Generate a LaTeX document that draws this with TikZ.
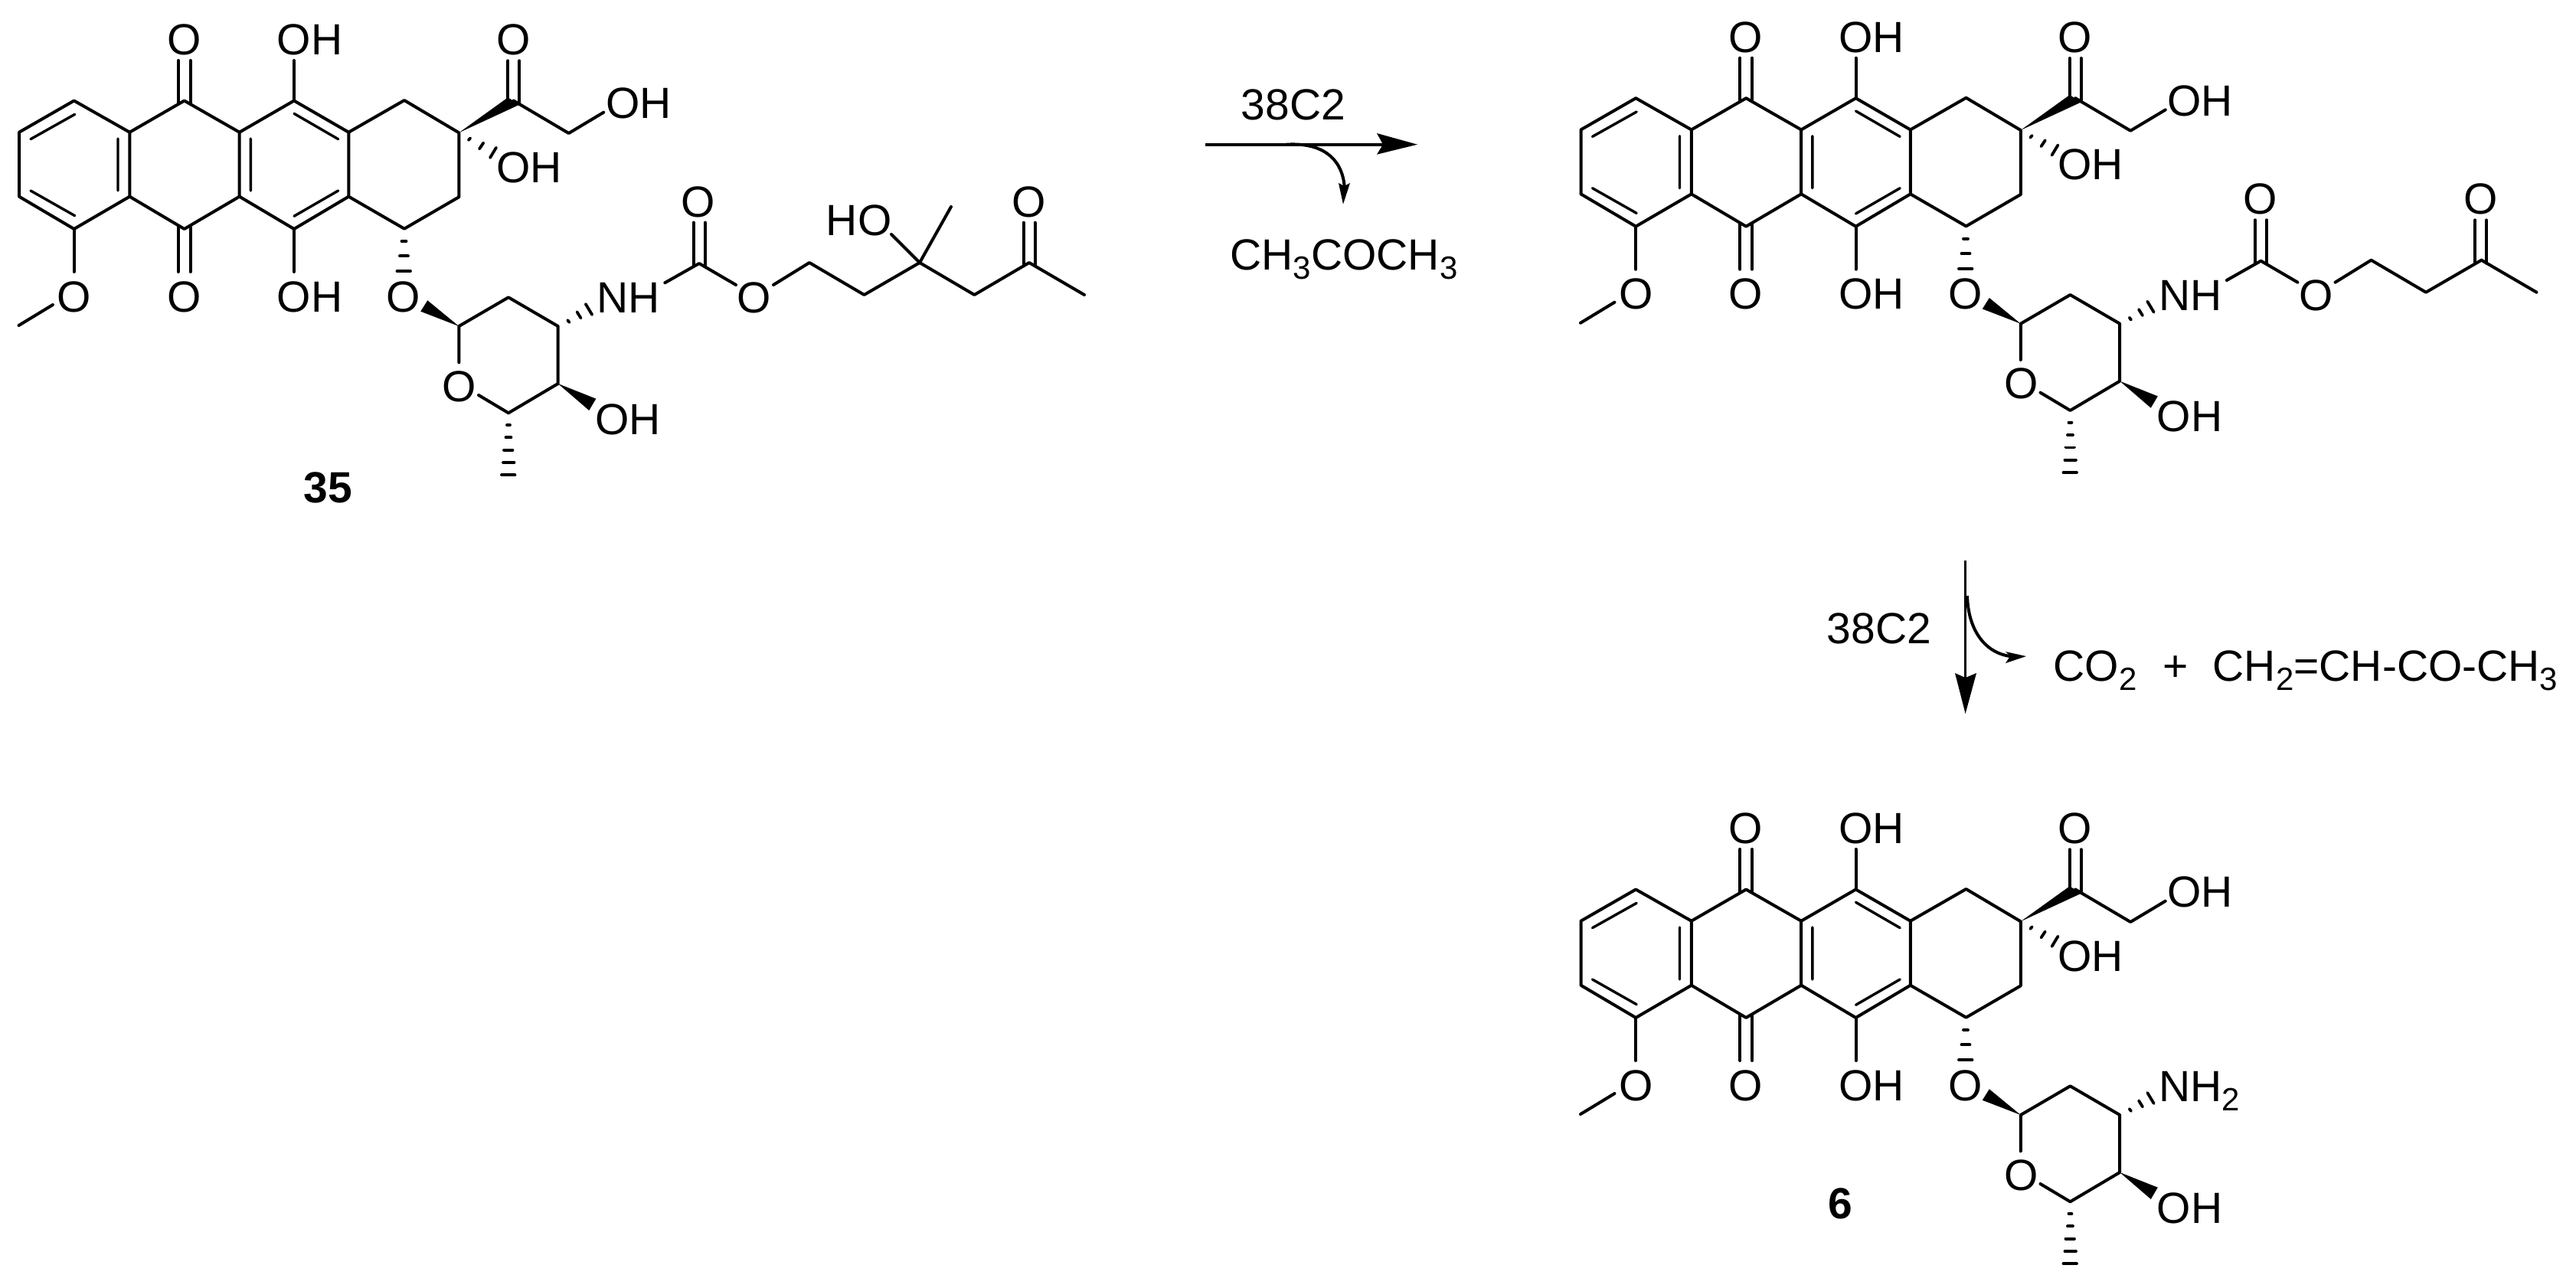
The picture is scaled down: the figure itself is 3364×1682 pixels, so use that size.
\documentclass[tikz,border=0pt]{standalone}
\usepackage{fontspec}
\setmainfont{Liberation Sans}
\tikzset{
  x=0.25pt,y=-0.25pt,
  bond/.style={line width=1pt,line cap=round,line join=round},
  inner/.style={line width=0.85pt,line cap=round},
  hash/.style={line width=0.95pt,line cap=round},
  lab/.style={anchor=base,inner sep=0pt,font=\fontsize{14.25}{16}\selectfont},
  labw/.style={anchor=base west,inner sep=0pt,font=\fontsize{14.25}{16}\selectfont},
  cmp/.style={anchor=base,inner sep=0pt,font=\fontsize{14.25}{16}\bfseries\selectfont},
}
\newcommand{\sub}[1]{\raisebox{-3pt}{\fontsize{10.5}{12}\selectfont #1}}
% common part of every molecule: tetracyclic aglycone and sugar ring without the N substituent
\newcommand{\aglycone}[1]{%
  \coordinate (#1a1) at (25,172.7);
  \coordinate (#1a2) at (96.7,131.5);
  \coordinate (#1a3) at (169.3,172.7);
  \coordinate (#1a4) at (169.3,256.7);
  \coordinate (#1a5) at (96.7,299);
  \coordinate (#1a6) at (25,256.7);
  \coordinate (#1b2) at (240.7,131.5);
  \coordinate (#1b3) at (312.7,172.7);
  \coordinate (#1b4) at (312.7,256.7);
  \coordinate (#1b5) at (240.7,299);
  \coordinate (#1c2) at (384,131.5);
  \coordinate (#1c3) at (455.3,172.7);
  \coordinate (#1c4) at (455.3,256.7);
  \coordinate (#1c5) at (384,299);
  \coordinate (#1d2) at (528,131);
  \coordinate (#1d3) at (599.3,173.3);
  \coordinate (#1d4) at (599.3,257.3);
  \coordinate (#1d5) at (528,298.7);
  % labels
  \node[lab] (#1oT) at (240.5,71.5) {O};
  \node[lab] (#1ohT) at (404.5,71.5) {OH};
  \node[lab] (#1oB) at (240.5,407) {O};
  \node[lab] (#1ohB) at (404.5,407) {OH};
  \node[lab] (#1oM) at (97,407) {O};
  \node[lab] (#1oK) at (670.5,71.5) {O};
  \node[lab] (#1ohE) at (690.8,238) {OH};
  \node[lab] (#1ohF) at (833.8,154.5) {OH};
  \node[lab] (#1oG) at (526.7,407) {O};
  \node[lab] (#1oR) at (599.7,524) {O};
  \node[lab] (#1ohS) at (820,567) {OH};
  % side chain and sugar atoms
  \coordinate (#1k) at (670.7,131.5);
  \coordinate (#1f) at (742.7,174);
  \coordinate (#1s1) at (599.3,426);
  \coordinate (#1s2) at (664,388.3);
  \coordinate (#1s3) at (728.7,426);
  \coordinate (#1s4) at (728.7,501);
  \coordinate (#1s5) at (664,539.3);
  \coordinate (#1me) at (24.5,425);
  % bonds of rings
  \draw[bond] (#1a1)--(#1a2)--(#1a3)--(#1a4)--(#1a5)--(#1a6)--cycle;
  \draw[bond] (#1a3)--(#1b2)--(#1b3)--(#1b4)--(#1b5)--(#1a4);
  \draw[bond] (#1b3)--(#1c2)--(#1c3)--(#1c4)--(#1c5)--(#1b4);
  \draw[bond] (#1c3)--(#1d2)--(#1d3)--(#1d4)--(#1d5)--(#1c4);
  % inner ring lines
  \draw[inner] (40,181.7)--(97.7,149.3) (40,249)--(97.7,281.7) (154,181)--(154,249);
  \draw[inner] (327.3,181)--(327.3,249) (384,148.3)--(441.7,181.7) (384,282.3)--(441.7,249);
  % exocyclic bonds of the aglycone
  \draw[bond] (232.9,135)--(232.9,79) (248.5,135)--(248.5,79);
  \draw[bond] (232.9,295)--(232.9,355) (248.5,295)--(248.5,355);
  \draw[bond] (#1c2)--(384,79);
  \draw[bond] (#1c5)--(384,355);
  \draw[bond] (#1a5)--(96.7,355);
  \draw[bond] (69,398)--(#1me);
  % keto side chain
  \fill (#1d3)--(663.3,127.3)--(678.3,136.7)--cycle;
  \draw[bond] (663.3,130)--(663.3,79.3) (678.3,136)--(678.3,79.3);
  \draw[bond] (#1k)--(#1f)--(788.3,146.7);
  \draw[hash] (611.8,183)--(614.2,180.3) (626,194.5)--(631.3,186.5) (640,206)--(648,192.7);
  % glycoside
  \draw[hash] (524.5,315)--(530.5,315) (522,334.3)--(533,334.3) (518.5,354)--(536,354);
  \fill (#1s1)--(558.3,392.3)--(549.3,406.7)--cycle;
  \draw[bond] (599.3,473.3)--(#1s1)--(#1s2)--(#1s3)--(#1s4)--(#1s5)--(625,516);
  \fill (#1s4)--(778.3,520.7)--(769.3,536)--cycle;
  \draw[hash] (662,555)--(666,555) (660.5,571.3)--(667.5,571.3) (658,587.7)--(669.5,587.7) (657,604)--(671.5,604) (655,620.3)--(672.5,620.3);
  \draw[hash] (741.2,418)--(743.5,421) (753.5,407.3)--(758.5,415.4) (764.8,397)--(773.2,411);
}
% carbamate and the start of the chain shared by the first two molecules
\newcommand{\carbamate}[1]{%
  \node[lab] (#1nh) at (821,408.5) {NH};
  \node[lab] (#1oC) at (911.7,283) {O};
  \node[lab] (#1oE) at (984.7,408.3) {O};
  \coordinate (#1c) at (913,344);
  \coordinate (#1e1) at (1057,343);
  \coordinate (#1e2) at (1128.5,385);
  \coordinate (#1e3) at (1201,343);
  \draw[bond] (868.3,369.3)--(#1c)--(961,372);
  \draw[bond] (905.6,347)--(905.6,290.6) (920.6,347)--(920.6,290.6);
  \draw[bond] (1010,372)--(#1e1)--(#1e2)--(#1e3);
}
\begin{document}
\begin{tikzpicture}
\useasboundingbox (0,0) rectangle (3364,1682);
% molecule 35
\begin{scope}
  \aglycone{p}
  \carbamate{p}
  \coordinate (pm) at (1242,270);
  \coordinate (pe4) at (1272.4,385);
  \coordinate (pe5) at (1344,343);
  \coordinate (pe6) at (1416,385);
  \node[lab] (pho) at (1121.6,307.7) {HO};
  \node[lab] (poO) at (1343.9,283) {O};
  \draw[bond] (pe3)--(pm);
  \draw[bond] (pe3)--(1164,306);
  \draw[bond] (pe3)--(pe4)--(pe5)--(pe6);
  \draw[bond] (1336.7,347)--(1336.7,290.7) (1351.5,347)--(1351.5,290.7);
  \node[cmp] (n35) at (428.5,656) {35};
\end{scope}
% intermediate
\begin{scope}[shift={(2039.5,-3.3)}]
  \aglycone{q}
  \carbamate{q}
  \coordinate (qe4) at (1273,385);
  \node[lab] (qoO) at (1200.2,283) {O};
  \draw[bond] (qe3)--(qe4);
  \draw[bond] (1192.9,347)--(1192.9,290.7) (1207.6,347)--(1207.6,290.7);
\end{scope}
% product 6
\begin{scope}[shift={(2039.5,1030)}]
  \aglycone{r}
  \node[labw] (rnh) at (779,408.5) {NH\sub{2}};
\end{scope}
\node[cmp] (n6) at (2403.5,1591) {6};
% arrow 1
\coordinate (a1s) at (1574,188.7);
\coordinate (a1e) at (1806,188.7);
\coordinate (a1b) at (1680,188.7);
\coordinate (a1c) at (1755.7,243);
\draw[line width=1pt] (a1s)--(a1e);
\fill (1851,188.7)--(1798,174)--(1806,188.7)--(1798,201.7)--cycle;
\draw[line width=1pt] (a1b) .. controls (1725,186) and (1752,205) .. (a1c);
\fill (1754,266.7)--(1748,239)--(1755.5,243)--(1763,239)--cycle;
\node[lab] (t1) at (1689,156) {38C2};
\node[lab] (t2) at (1755,352.7) {CH\sub{3}COCH\sub{3}};
% arrow 2
\coordinate (a2s) at (2566.6,732);
\coordinate (a2e) at (2566.6,885);
\coordinate (a2b) at (2569,778);
\coordinate (a2c) at (2625,857);
\draw[line width=0.75pt] (a2s)--(a2e);
\fill (2566.6,932)--(2553,879)--(2566.6,885)--(2581,879)--cycle;
\draw[line width=1pt] (a2b) .. controls (2570,820) and (2590,852) .. (a2c);
\fill (2646,857)--(2619,851)--(2625,857)--(2619,866)--cycle;
\node[lab] (t3) at (2454,840) {38C2};
\node[labw] (t4) at (2681,889) {CO\sub{2}};
\node[lab] (t5) at (2840.7,889) {+};
\node[labw] (t6) at (2889,889) {CH\sub{2}=CH-CO-CH\sub{3}};
\end{tikzpicture}
\end{document}
